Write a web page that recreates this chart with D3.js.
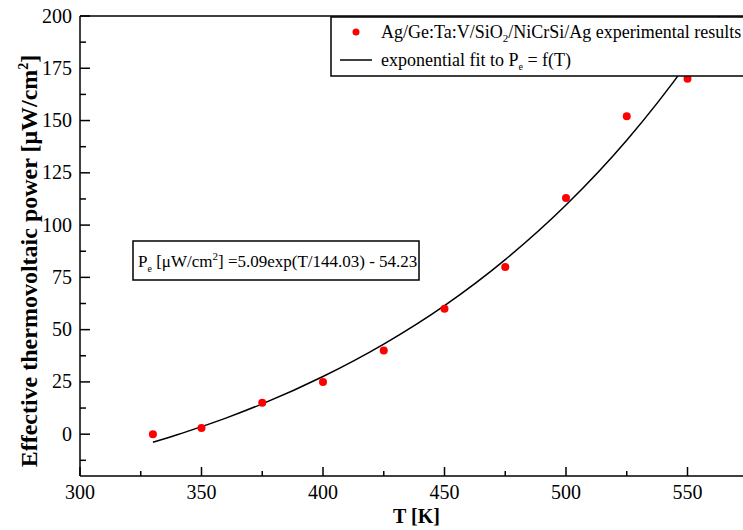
<!DOCTYPE html>
<html>
<head>
<meta charset="utf-8">
<script src="https://cdn.jsdelivr.net/npm/d3@7"></script>
<style>
  body { margin: 0; background: #fff; }
  svg text { font-family: "Liberation Serif", "Times New Roman", serif; }
</style>
</head>
<body>
<div id="chart"></div>
<script>
// measured points
var temps = [330, 350, 375, 400, 425, 450, 475, 500, 525, 550];
var power = [0, 3, 15, 25, 40, 60, 80, 113, 152, 170];

// fit curve
var fitT = [330, 340, 350, 360, 375, 400, 425, 450, 475, 500, 525, 550, 565];
var fitP = [-3.9, -0.3, 3.6, 7.7, 14.5, 27.6, 43.1, 61.5, 83.5, 109.6, 140.6, 177.6, 203];

var xTicks = [300, 350, 400, 450, 500, 550];
var yTicks = [0, 25, 50, 75, 100, 125, 150, 175, 200];

var W = 743, H = 530;
var margin = {top: 16, right: 0, bottom: 54, left: 80};

var svg = d3.select("#chart").append("svg")
    .attr("width", W)
    .attr("height", H);

var x = d3.scaleLinear().domain([300, 575]).range([margin.left, margin.left + 275 * 2.43]);
var y = d3.scaleLinear().domain([-20, 200]).range([H - margin.bottom, margin.top]);

svg.append("clipPath").attr("id", "plot")
  .append("rect")
    .attr("x", x(300)).attr("y", y(200))
    .attr("width", W - x(300)).attr("height", y(-20) - y(200));

var g = svg.append("g");

// x axis (ticks inward)
var xMinor = d3.range(325, 575, 50);
g.selectAll(".xmaj").data(xTicks).enter().append("line")
    .attr("x1", d => x(d)).attr("x2", d => x(d))
    .attr("y1", y(-20)).attr("y2", y(-20) - 9)
    .attr("stroke", "#000").attr("stroke-width", 1.5);
g.selectAll(".xmin").data(xMinor).enter().append("line")
    .attr("x1", d => x(d)).attr("x2", d => x(d))
    .attr("y1", y(-20)).attr("y2", y(-20) - 5)
    .attr("stroke", "#000").attr("stroke-width", 1.5);
g.selectAll(".xlab").data(xTicks).enter().append("text")
    .attr("x", d => x(d)).attr("y", y(-20) + 23)
    .attr("text-anchor", "middle")
    .attr("font-size", 20)
    .text(d => d);

// y axis
var yMinor = d3.range(-12.5, 200, 25);
g.selectAll(".ymaj").data(yTicks).enter().append("line")
    .attr("x1", x(300)).attr("x2", x(300) + 10)
    .attr("y1", d => y(d)).attr("y2", d => y(d))
    .attr("stroke", "#000").attr("stroke-width", 1.5);
g.selectAll(".ymin").data(yMinor).enter().append("line")
    .attr("x1", x(300)).attr("x2", x(300) + 6)
    .attr("y1", d => y(d)).attr("y2", d => y(d))
    .attr("stroke", "#000").attr("stroke-width", 1.5);
g.selectAll(".ylab").data(yTicks).enter().append("text")
    .attr("x", x(300) - 8).attr("y", d => y(d) + 6.5)
    .attr("text-anchor", "end")
    .attr("font-size", 20)
    .text(d => d);

// frame lines
g.append("line").attr("x1", x(300)).attr("x2", W).attr("y1", y(-20)).attr("y2", y(-20))
    .attr("stroke", "#000").attr("stroke-width", 1.5);
g.append("line").attr("x1", x(300)).attr("x2", W).attr("y1", y(200)).attr("y2", y(200))
    .attr("stroke", "#000").attr("stroke-width", 1.5);
g.append("line").attr("x1", x(300)).attr("x2", x(300)).attr("y1", y(-20)).attr("y2", y(200))
    .attr("stroke", "#000").attr("stroke-width", 1.5);

// fit line
var fit = fitT.map((t, i) => [t, fitP[i]]);
g.append("path")
    .datum(fit)
    .attr("clip-path", "url(#plot)")
    .attr("fill", "none")
    .attr("stroke", "#000")
    .attr("stroke-width", 1.5)
    .attr("d", d3.line().x(d => x(d[0])).y(d => y(d[1])).curve(d3.curveMonotoneX));

// points
g.selectAll(".pt").data(temps).enter().append("circle")
    .attr("cx", d => x(d))
    .attr("cy", (d, i) => y(power[i]))
    .attr("r", 4)
    .attr("fill", "#ff0000");

// legend
var lg = svg.append("g");
lg.append("rect").attr("x", 331).attr("y", 17).attr("width", 430).attr("height", 59)
    .attr("fill", "#fff").attr("stroke", "#000").attr("stroke-width", 1.5);
lg.append("circle").attr("cx", 356).attr("cy", 32).attr("r", 3.5).attr("fill", "#ff0000");
lg.append("line").attr("x1", 340).attr("x2", 372).attr("y1", 60).attr("y2", 60)
    .attr("stroke", "#000").attr("stroke-width", 1.5);
var t1 = lg.append("text").attr("x", 381).attr("y", 38).attr("font-size", 18);
t1.append("tspan").text("Ag/Ge:Ta:V/SiO");
t1.append("tspan").attr("font-size", 11).attr("dy", 4).text("2");
t1.append("tspan").attr("dy", -4).text("/NiCrSi/Ag experimental results");
var t2 = lg.append("text").attr("x", 381).attr("y", 66).attr("font-size", 18);
t2.append("tspan").text("exponential fit to P");
t2.append("tspan").attr("font-size", 10).attr("dy", 4).text("e");
t2.append("tspan").attr("dy", -4).text(" = f(T)");

// equation box
var eq = svg.append("g");
eq.append("rect").attr("x", 133).attr("y", 241).attr("width", 286).attr("height", 39)
    .attr("fill", "#fff").attr("stroke", "#000").attr("stroke-width", 1.5);
var t3 = eq.append("text").attr("x", 138).attr("y", 267).attr("font-size", 17);
t3.append("tspan").text("P");
t3.append("tspan").attr("font-size", 10).attr("dy", 5).text("e");
t3.append("tspan").attr("dy", -5).text(" [\u03bcW/cm");
t3.append("tspan").attr("font-size", 11).attr("dy", -7).text("2");
t3.append("tspan").attr("dy", 7).text("] =5.09exp(T/144.03) - 54.23");

// axis titles
svg.append("text")
    .attr("x", x(450) - 28).attr("y", 523)
    .attr("text-anchor", "middle")
    .attr("font-size", 20).attr("font-weight", "bold")
    .text("T [K]");

var yt = svg.append("text")
    .attr("transform", "translate(37,261) rotate(-90)")
    .attr("text-anchor", "middle")
    .attr("font-size", 24).attr("font-weight", "bold");
yt.append("tspan").text("Effective thermovoltaic power [\u03bcW/cm");
yt.append("tspan").attr("font-size", 14).attr("dy", -9).text("2");
yt.append("tspan").attr("dy", 9).text("]");
</script>
</body>
</html>
